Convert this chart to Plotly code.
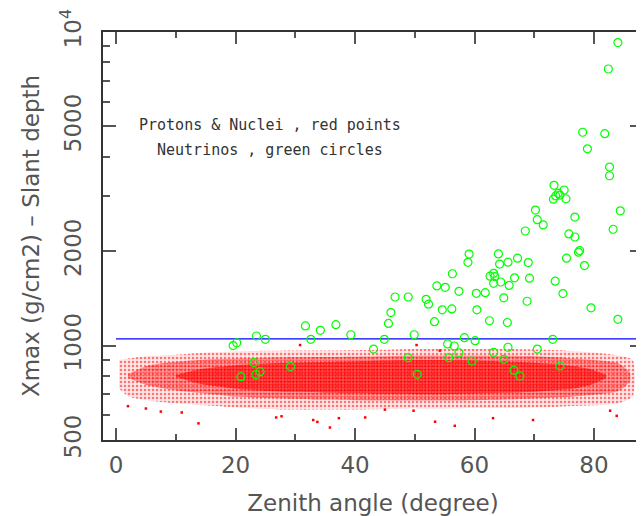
import plotly.graph_objects as go

# ---- Neutrinos (green circles): zenith angle (deg), Xmax - slant depth (g/cm2)
nu_x = [84.0, 82.4, 78.1, 81.8, 78.9, 82.6, 82.6, 73.3, 75.0, 74.0, 74.3, 73.6, 73.2, 75.3,
        70.2, 84.4, 76.8, 70.5, 71.5, 68.5, 83.2, 75.8, 76.8, 64.0, 77.6, 77.4, 67.2, 75.4,
        64.2, 65.6, 69.0, 78.4, 62.6, 63.2, 63.4, 66.7, 69.2, 64.4, 63.2, 65.8, 73.5, 61.8,
        74.8, 64.9, 68.8, 79.5, 60.4, 62.5, 65.5, 84.0, 73.1, 65.6, 63.2, 70.5, 64.9, 66.6,
        67.6, 74.3, 59.1, 58.9, 56.3, 53.7, 55.1, 57.4, 60.3, 46.7, 48.9, 51.9, 52.3, 54.6,
        56.2, 46.0, 45.6, 53.3, 49.9, 44.9, 58.3, 60.1, 43.1, 55.5, 56.6, 57.4, 48.9, 55.7,
        59.6, 50.4, 31.7, 34.2, 36.8, 39.3, 23.5, 25.0, 32.6, 20.2, 19.6, 23.1, 24.1, 23.4,
        20.9, 29.2]
nu_y = [9250, 7620, 4790, 4740, 4240, 3710, 3480, 3245, 3135, 3060, 3020, 3000, 2930, 2940,
        2705, 2690, 2570, 2520, 2425, 2320, 2350, 2270, 2220, 1960, 2010, 1985, 1900, 1900,
        1820, 1845, 1840, 1800, 1665, 1700, 1660, 1645, 1640, 1595, 1580, 1555, 1605, 1475,
        1465, 1420, 1385, 1320, 1300, 1200, 1185, 1213, 1047, 988, 952, 975, 904, 835,
        800, 861, 1958, 1843, 1695, 1550, 1534, 1490, 1468, 1429, 1429, 1405, 1355, 1300,
        1309, 1274, 1177, 1192, 1083, 1047, 1060, 1037, 975, 1012, 997, 949, 915, 915,
        893, 810, 1155, 1119, 1166, 1083, 1073, 1047, 1047, 1021, 1000, 883, 826, 808,
        796, 857]

# ---- Protons & nuclei (red points): density envelopes
outer_x = [0.5, 2, 5, 10, 15, 20, 25, 30, 35, 40, 45, 50, 55, 60, 65, 70, 75, 80, 84, 86.5]
outer_hi = [900, 910, 925, 935, 950, 958, 962, 965, 965, 967, 970, 975, 975, 975, 975, 972, 965, 950, 930, 900]
outer_lo = [730, 690, 670, 655, 645, 635, 628, 625, 625, 625, 628, 630, 630, 632, 632, 635, 640, 645, 655, 690]

mid_x = [2, 5, 8, 12, 16, 20, 25, 30, 35, 40, 45, 50, 55, 60, 65, 70, 75, 80, 84, 86]
mid_hi = [810, 860, 880, 895, 905, 910, 915, 918, 920, 922, 925, 930, 930, 930, 928, 925, 915, 900, 880, 820]
mid_lo = [790, 750, 730, 712, 700, 688, 681, 676, 673, 670, 668, 668, 668, 670, 673, 678, 685, 697, 715, 770]

core_x = [10, 14, 20, 25, 30, 35, 40, 45, 50, 55, 60, 65, 70, 75, 79, 82]
core_hi = [805, 840, 865, 876, 883, 887, 891, 896, 900, 900, 897, 891, 882, 868, 845, 805]
core_lo = [795, 755, 728, 717, 712, 708, 705, 702, 700, 700, 703, 707, 713, 724, 745, 790]

# individual red points lying outside the dense cloud
red_x = [13.8, 35.8, 33.0, 26.8, 37.3, 7.5, 27.7, 33.7, 56.7, 53.4, 69.8, 41.7, 63.1, 83.8,
         82.7, 49.8, 45.0, 50.3, 54.2, 30.8, 2.0, 5.0, 11.0]
red_y = [565, 548, 579, 590, 587, 616, 595, 571, 555, 572, 579, 590, 587, 597,
         620, 620, 625, 1004, 964, 1004, 641, 630, 612]

# ---- cut line
cut_x = [0, 88.2]
cut_y = [1050, 1050]

# ---- axes
x_ticks = [0, 20, 40, 60, 80]
x_minor = [10, 30, 50, 70]
y_ticks = [500, 1000, 2000, 5000, 10000]
y_ticktext = ["500", "1000", "2000", "5000", "10<sup>4</sup>"]
y_minor = [600, 700, 800, 900, 3000, 4000, 6000, 7000, 8000, 9000]

fig = go.Figure()


def band(xs, hi, lo, bg, psize, psol):
    fig.add_trace(go.Scatter(
        x=list(xs) + list(xs)[::-1], y=list(hi) + list(lo)[::-1],
        mode="lines", fill="toself", fillcolor=bg,
        fillpattern=dict(shape=".", fgcolor="#ff0000", bgcolor=bg,
                         size=psize, solidity=psol),
        line=dict(width=0, shape="spline", smoothing=0.6), hoverinfo="skip"))


band(outer_x, outer_hi, outer_lo, "rgba(255,0,0,0.10)", 4, 0.3)
band(mid_x, mid_hi, mid_lo, "rgba(255,0,0,0.28)", 3, 0.42)
band(core_x, core_hi, core_lo, "rgba(255,0,0,0.45)", 3, 0.5)

fig.add_trace(go.Scatter(x=red_x, y=red_y, mode="markers",
                         marker=dict(symbol="square", size=2.5, color="#ff0000")))

fig.add_trace(go.Scatter(x=cut_x, y=cut_y, mode="lines",
                         line=dict(color="#0000ff", width=1.3)))

fig.add_trace(go.Scatter(x=nu_x, y=nu_y, mode="markers",
                         marker=dict(symbol="circle-open", size=8, color="#00ff00",
                                     line=dict(width=1.2, color="#00ff00"))))

axis_font = dict(family="DejaVu Sans", size=23, color="#555")

fig.update_xaxes(
    range=[-2.18, 88.2], tickvals=x_ticks, ticks="inside", ticklen=12, tickwidth=1.5,
    tickcolor="#555", showline=True, linecolor="#333", linewidth=1.5, mirror="ticks",
    showgrid=False, zeroline=False, tickfont=axis_font, ticklabelstandoff=4,
    automargin=False,
    minor=dict(tickvals=x_minor, ticks="inside", ticklen=6, tickwidth=1.5, tickcolor="#555"),
    title=dict(text="Zenith angle (degree)", font=axis_font, standoff=19))

fig.update_yaxes(
    type="log", range=[2.69897, 4.0], tickvals=y_ticks, ticktext=y_ticktext,
    ticks="inside", ticklen=13, tickwidth=1.5, tickcolor="#555", tickangle=-90,
    showline=True, linecolor="#333", linewidth=1.5, mirror="ticks",
    showgrid=False, zeroline=False, tickfont=axis_font, ticklabelstandoff=11,
    automargin=False,
    minor=dict(tickvals=y_minor, ticks="inside", ticklen=7, tickwidth=1.5, tickcolor="#555"),
    title=dict(text="Xmax (g/cm2) – Slant depth", font=axis_font, standoff=10))

# The page body adds an 8px offset, so the figure is 8px smaller than the window.
W, H = 636, 508
ML, MT, PW, PH = 95, 24, 540, 408
ann_font = dict(family="DejaVu Sans Mono", size=15, color="#333")
for txt, px, py in [("Protons & Nuclei , red points", 270, 125),
                    ("Neutrinos , green circles", 270, 150)]:
    fig.add_annotation(x=(px - 8 - ML) / PW, y=1 - (py - 8 - MT) / PH, xref="paper", yref="paper",
                       xanchor="center", yanchor="middle", text=txt,
                       showarrow=False, font=ann_font)

fig.update_layout(width=W, height=H, margin=dict(l=ML, r=W - ML - PW, t=MT, b=H - MT - PH),
                  plot_bgcolor="white", paper_bgcolor="white", showlegend=False)

fig.write_html("out.html")
